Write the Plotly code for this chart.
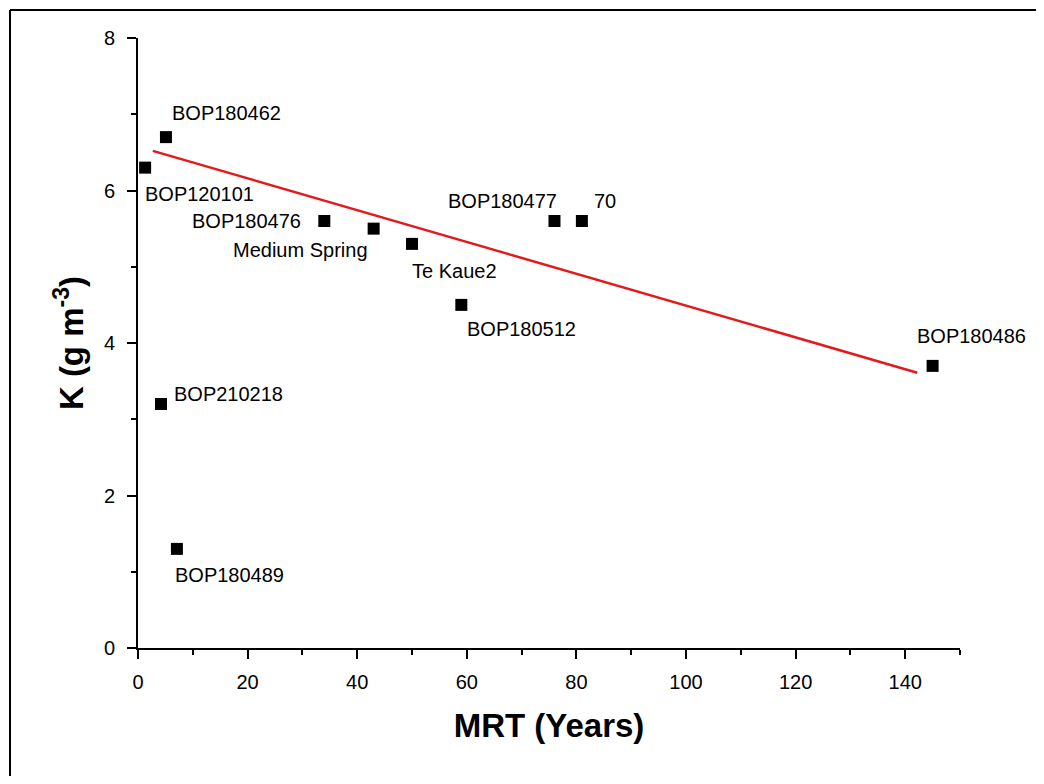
import plotly.graph_objects as go

# Data
site_names = ["BOP120101", "BOP180462", "BOP180476", "Medium Spring", "Te Kaue2",
              "BOP180512", "BOP180477", "70", "BOP180486", "BOP210218", "BOP180489"]
mrt_years = [1.3, 5.1, 34, 43, 50, 59, 76, 81, 145, 4.2, 7.1]
k_values = [6.3, 6.7, 5.6, 5.5, 5.3, 4.5, 5.6, 5.6, 3.7, 3.2, 1.3]

# Linear fit line (endpoints)
fit_x = [2.7, 142.2]
fit_y = [6.52, 3.61]

# Label placement (xanchor, xshift, yshift) per site
label_pos = {
    "BOP120101": ("left", -2, -26),
    "BOP180462": ("left", 4, 24),
    "BOP180476": ("right", -21, 0),
    "Medium Spring": ("right", -4, -21),
    "Te Kaue2": ("left", -2, -27),
    "BOP180512": ("left", 4, -24),
    "BOP180477": ("right", 5, 20),
    "70": ("left", 10, 20),
    "BOP180486": ("left", -18, 30),
    "BOP210218": ("left", 11, 10),
    "BOP180489": ("left", -4, -26),
}

FONT = "Liberation Sans, Arial, sans-serif"

fig = go.Figure()
fig.add_trace(go.Scatter(
    x=fit_x, y=fit_y, mode="lines",
    line=dict(color="#e31a1c", width=2.5), showlegend=False, hoverinfo="skip"))
fig.add_trace(go.Scatter(
    x=mrt_years, y=k_values, mode="markers",
    marker=dict(symbol="square", size=12, color="black"),
    showlegend=False, cliponaxis=False))

for name, xv, yv in zip(site_names, mrt_years, k_values):
    xa, xs, ys = label_pos[name]
    fig.add_annotation(x=xv, y=yv, text=name, showarrow=False,
                       xanchor=xa, yanchor="middle", xshift=xs, yshift=ys,
                       font=dict(family=FONT, size=20, color="black"))

axis_font = dict(family=FONT, size=20, color="black")
fig.update_xaxes(
    range=[0, 150], tickvals=[0, 20, 40, 60, 80, 100, 120, 140],
    showline=True, linecolor="black", linewidth=2, showgrid=False, zeroline=False,
    ticks="outside", ticklen=9, tickwidth=2, tickcolor="black", ticklabelstandoff=6,
    minor=dict(dtick=10, ticks="outside", ticklen=5, tickwidth=2, tickcolor="black"),
    tickfont=axis_font,
    title=dict(text="<b>MRT (Years)</b>", standoff=22,
               font=dict(family=FONT, size=33, color="black")))
fig.update_yaxes(
    range=[0, 8], tickvals=[0, 2, 4, 6, 8],
    showline=True, linecolor="black", linewidth=2, showgrid=False, zeroline=False,
    ticks="outside", ticklen=9, tickwidth=2, tickcolor="black", ticklabelstandoff=8,
    minor=dict(dtick=1, ticks="outside", ticklen=5, tickwidth=2, tickcolor="black"),
    tickfont=axis_font,
    title=dict(text="<b>K (g m<sup>-3</sup>)</b>", standoff=10,
               font=dict(family=FONT, size=33, color="black")))

# Outer frame (top and left edges visible in the original)
fig.add_shape(type="line", xref="paper", yref="paper", x0=-128/822, x1=906/822,
              y0=1 + 28/610, y1=1 + 28/610, line=dict(color="black", width=2))
fig.add_shape(type="line", xref="paper", yref="paper", x0=-128/822, x1=-128/822,
              y0=1 + 28/610, y1=-128/610, line=dict(color="black", width=2))

# Page body adds an 8px offset; figure sized to fit the window without overflow,
# keeping the plot area at 138..960 x 38..648 on the page
fig.update_layout(
    width=1036, height=776,
    margin=dict(l=130, r=84, t=30, b=136),
    plot_bgcolor="white", paper_bgcolor="white",
    font=dict(family=FONT, color="black"),
)

fig.write_html("out.html")
